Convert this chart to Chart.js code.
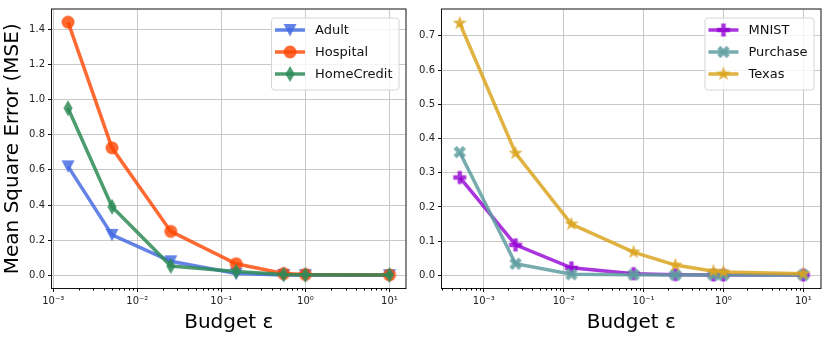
<!DOCTYPE html>
<html>
<head>
<meta charset="utf-8">
<script src="https://cdn.jsdelivr.net/npm/chart.js@4"></script>
<style>
  body { margin: 0; background: #fff; width: 830px; height: 342px; overflow: hidden; position: relative; }
  .panel { position: absolute; top: 0; width: 415px; height: 342px; }
</style>
</head>
<body>
<div class="panel" style="left:0"><canvas id="grafico" width="415" height="342"></canvas></div>
<div class="panel" style="left:415px"><canvas id="grafico2" width="415" height="342"></canvas></div>
<script>
// left panel: tabular datasets
var budgetTab = [0.0015, 0.005, 0.025, 0.15, 0.55, 1, 10];
var adult = [0.62, 0.23, 0.08, 0.01, 0.002, 0.001, 0.001];
var hospital = [1.44, 0.725, 0.25, 0.066, 0.01, 0.005, 0.002];
var homeCredit = [0.95, 0.39, 0.053, 0.022, 0.005, 0.003, 0.002];

// right panel: image / text datasets
var budgetImg = [0.0005, 0.0025, 0.0125, 0.075, 0.25, 0.75, 1, 10];
var mnist = [0.286, 0.089, 0.022, 0.005, 0.002, 0.001, 0.001, 0.001];
var purchase = [0.36, 0.034, 0.003, 0.002, 0.001, 0.001, 0.001, 0.001];
var texas = [0.737, 0.357, 0.15, 0.068, 0.03, 0.012, 0.01, 0.005];

var xTicks = [0.001, 0.01, 0.1, 1, 10];
var xTickLabels = ['10\u207B\u00B3', '10\u207B\u00B2', '10\u207B\u00B9', '10\u2070', '10\u00B9'];
var yTicksLeft = [0, 0.2, 0.4, 0.6, 0.8, 1.0, 1.2, 1.4];
var yTicksRight = [0, 0.1, 0.2, 0.3, 0.4, 0.5, 0.6, 0.7];

var FONT = "'DejaVu Sans', sans-serif";

function makeMarker(shape, color) {
    var c = document.createElement('canvas');
    c.width = 20; c.height = 20;
    var g = c.getContext('2d');
    g.translate(10, 10);
    g.fillStyle = color;
    g.beginPath();
    if (shape == 'circle') {
        g.arc(0, 0, 6.5, 0, Math.PI * 2);
    } else if (shape == 'triDown') {
        g.moveTo(-6.5, -6); g.lineTo(6.5, -6); g.lineTo(0, 6.5);
    } else if (shape == 'thinDiamond') {
        g.moveTo(0, -8); g.lineTo(4.6, 0); g.lineTo(0, 8); g.lineTo(-4.6, 0);
    } else if (shape == 'plus' || shape == 'x') {
        if (shape == 'x') g.rotate(Math.PI / 4);
        var a = 2.2, b = 6.5;
        g.moveTo(-a, -b); g.lineTo(a, -b); g.lineTo(a, -a); g.lineTo(b, -a); g.lineTo(b, a);
        g.lineTo(a, a); g.lineTo(a, b); g.lineTo(-a, b); g.lineTo(-a, a); g.lineTo(-b, a);
        g.lineTo(-b, -a); g.lineTo(-a, -a);
    } else if (shape == 'star') {
        for (var k = 0; k < 10; k++) {
            var r = k % 2 == 0 ? 7.5 : 3;
            var ang = -Math.PI / 2 + k * Math.PI / 5;
            if (k == 0) g.moveTo(r * Math.cos(ang), r * Math.sin(ang));
            else g.lineTo(r * Math.cos(ang), r * Math.sin(ang));
        }
    }
    g.closePath();
    g.fill();
    return c;
}

function serie(label, xs, ys, color, shape, ordine) {
    var punti = [];
    for (var i = 0; i < xs.length; i++) {
        punti.push({ x: xs[i], y: ys[i] });
    }
    var marker = makeMarker(shape, color);
    return {
        label: label,
        data: punti,
        borderColor: color,
        backgroundColor: color,
        borderWidth: 3.5,
        pointStyle: marker,
        pointRadius: 6,
        tension: 0,
        clip: false,
        order: ordine
    };
}

var minorTicks = {
    id: 'minorTicks',
    afterDraw: function (chart) {
        var s = chart.scales.x;
        var ctx = chart.ctx;
        var bottom = chart.chartArea.bottom;
        ctx.save();
        ctx.strokeStyle = '#000';
        ctx.lineWidth = 1;
        for (var d = Math.floor(Math.log10(s.min)); d <= Math.ceil(Math.log10(s.max)); d++) {
            for (var m = 2; m <= 9; m++) {
                var v = m * Math.pow(10, d);
                if (v < s.min || v > s.max) continue;
                var px = Math.round(s.getPixelForValue(v)) + 0.5;
                ctx.beginPath();
                ctx.moveTo(px, bottom);
                ctx.lineTo(px, bottom + 2.5);
                ctx.stroke();
            }
        }
        ctx.restore();
    }
};

var boxPlugin = {
    id: 'box',
    afterDatasetsDraw: function (chart) {
        var a = chart.chartArea;
        var ctx = chart.ctx;
        ctx.save();
        ctx.strokeStyle = '#111';
        ctx.lineWidth = 1;
        ctx.strokeRect(a.left - 0.5, a.top - 0.5, a.right - a.left + 1, a.bottom - a.top + 1);
        ctx.restore();
    }
};

var legendPlugin = {
    id: 'legendBox',
    afterDraw: function (chart) {
        var ctx = chart.ctx;
        var a = chart.chartArea;
        var ds = chart.data.datasets.slice().sort(function (p, q) { return q.order - p.order; });
        ctx.save();
        ctx.font = '13px ' + FONT;
        var maxW = 0;
        for (var i = 0; i < ds.length; i++) {
            maxW = Math.max(maxW, ctx.measureText(ds[i].label).width);
        }
        var lineLen = 30;
        var w = 4 + lineLen + 10 + maxW + 6;
        var h = 72;
        var x0 = a.right - 7 - w;
        var y0 = a.top + 8;
        ctx.fillStyle = 'rgba(255,255,255,0.8)';
        ctx.strokeStyle = '#d6d6d6';
        ctx.lineWidth = 1;
        ctx.beginPath();
        ctx.roundRect(x0 + 0.5, y0 + 0.5, w, h, 3);
        ctx.fill();
        ctx.stroke();
        for (var j = 0; j < ds.length; j++) {
            var cy = y0 + 12.5 + j * 22;
            ctx.strokeStyle = ds[j].borderColor;
            ctx.lineWidth = 3.5;
            ctx.beginPath();
            ctx.moveTo(x0 + 4, cy);
            ctx.lineTo(x0 + 4 + lineLen, cy);
            ctx.stroke();
            ctx.drawImage(ds[j].pointStyle, x0 + 4 + lineLen / 2 - 10, cy - 10);
            ctx.fillStyle = '#111';
            ctx.textBaseline = 'middle';
            ctx.fillText(ds[j].label, x0 + 4 + lineLen + 10, cy + 1);
        }
        ctx.restore();
    }
};

function opzioni(xMin, xMax, yMin, yMax, yTicks, yWidth, padRight, yTitle) {
    return {
        responsive: false,
        animation: false,
        devicePixelRatio: 1,
        layout: { padding: { left: 0, right: padRight, top: 8, bottom: 0 } },
        plugins: { legend: { display: false }, tooltip: { enabled: false } },
        scales: {
            x: {
                type: 'logarithmic',
                min: xMin,
                max: xMax,
                afterBuildTicks: function (s) {
                    s.ticks = xTicks.map(function (v) { return { value: v }; });
                },
                afterFit: function (s) { s.height = 54; },
                ticks: {
                    autoSkip: false,
                    maxRotation: 0,
                    padding: 3,
                    color: '#222',
                    font: { family: FONT, size: 10 },
                    callback: function (v) { return xTickLabels[xTicks.indexOf(v)]; }
                },
                grid: { color: '#c8c8c8', lineWidth: 1, tickLength: 4, tickColor: '#111' },
                border: { display: false },
                title: {
                    display: true,
                    text: 'Budget \u03B5',
                    color: '#000',
                    font: { family: FONT, size: 20 },
                    padding: { top: 0, bottom: 7 }
                }
            },
            y: {
                type: 'linear',
                min: yMin,
                max: yMax,
                afterBuildTicks: function (s) {
                    s.ticks = yTicks.map(function (v) { return { value: v }; });
                },
                afterFit: function (s) { s.width = yWidth; },
                ticks: {
                    padding: 3,
                    color: '#222',
                    font: { family: FONT, size: 10 },
                    callback: function (v) { return v.toFixed(1); }
                },
                grid: { color: '#c8c8c8', lineWidth: 1, tickLength: 4, tickColor: '#111' },
                border: { display: false },
                title: {
                    display: yTitle != '',
                    text: yTitle,
                    color: '#000',
                    font: { family: FONT, size: 20 },
                    padding: { top: 1, bottom: 0 }
                }
            }
        }
    };
}

var ctx = document.getElementById('grafico');
var chart = new Chart(ctx, {
    type: 'line',
    data: {
        datasets: [
            serie('Adult', budgetTab, adult, 'rgba(65,105,225,0.82)', 'triDown', 3),
            serie('Hospital', budgetTab, hospital, 'rgba(255,69,0,0.8)', 'circle', 2),
            serie('HomeCredit', budgetTab, homeCredit, 'rgba(46,139,87,0.85)', 'thinDiamond', 1)
        ]
    },
    options: opzioni(Math.pow(10, -3.015), Math.pow(10, 1.191), -0.072, 1.512, yTicksLeft, 52, 5, 'Mean Square Error (MSE)'),
    plugins: [minorTicks, boxPlugin, legendPlugin]
});

var ctx2 = document.getElementById('grafico2');
var chart2 = new Chart(ctx2, {
    type: 'line',
    data: {
        datasets: [
            serie('MNIST', budgetImg, mnist, 'rgba(148,0,211,0.8)', 'plus', 3),
            serie('Purchase', budgetImg, purchase, 'rgba(95,158,160,0.85)', 'x', 2),
            serie('Texas', budgetImg, texas, 'rgba(218,165,32,0.85)', 'star', 1)
        ]
    },
    options: opzioni(Math.pow(10, -3.516), Math.pow(10, 1.215), -0.037, 0.777, yTicksRight, 27, 7, ''),
    plugins: [minorTicks, boxPlugin, legendPlugin]
});
</script>
</body>
</html>
